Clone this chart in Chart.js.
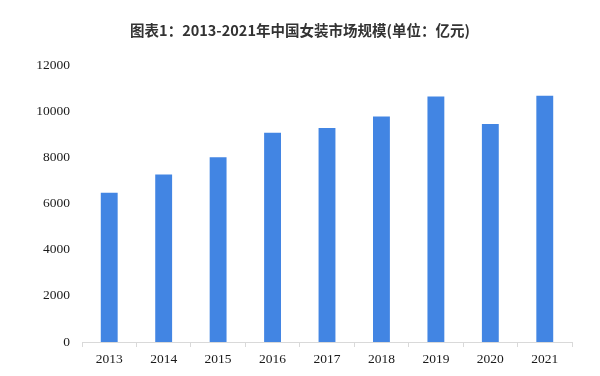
<!DOCTYPE html>
<html lang="zh">
<head>
  <meta charset="UTF-8">
  <title>2013-2021年中国女装市场规模</title>
  <script src="https://cdn.jsdelivr.net/npm/chart.js"></script>
  <style>
    body {
      margin: 0;
      background: #ffffff;
    }
    .chart-container {
      position: relative;
      width: 600px;
      height: 376px;
    }
  </style>
</head>
<body>
  <div class="chart-container">
    <canvas id="marketChart"></canvas>
  </div>

  <script>
    // data (亿元)
    const years = ['2013', '2014', '2015', '2016', '2017', '2018', '2019', '2020', '2021'];
    const marketSize = [6480, 7270, 8020, 9080, 9280, 9780, 10650, 9460, 10680];
    const yTicks = [0, 2000, 4000, 6000, 8000, 10000, 12000];

    const titleText = '图表1：2013-2021年中国女装市场规模(单位：亿元)';

    const ctx = document.getElementById('marketChart').getContext('2d');

    new Chart(ctx, {
      type: 'bar',
      data: {
        labels: years,
        datasets: [{
          label: '市场规模',
          data: marketSize,
          backgroundColor: '#4285e3',
          categoryPercentage: 1,
          barPercentage: 0.31,
        }]
      },
      options: {
        responsive: true,
        maintainAspectRatio: false,
        animation: false,
        layout: {
          // equal side padding keeps the title centred on the page
          padding: { top: 0, left: 28, right: 28, bottom: 0 }
        },
        plugins: {
          legend: { display: false },
          tooltip: { enabled: false },
          title: {
            display: true,
            text: titleText,
            color: '#333333',
            font: { family: '"Noto Sans CJK SC", sans-serif', size: 14.5, weight: 'bold' },
            padding: { top: 22, bottom: 26 },
          },
        },
        scales: {
          x: {
            offset: true,
            grid: {
              display: true,
              drawOnChartArea: false,
              offset: true,
              tickLength: 5,
              color: '#d9d9d9',
            },
            border: { color: '#d9d9d9' },
            ticks: {
              color: '#1a1a1a',
              font: { family: '"Liberation Serif", serif', size: 13.5 },
              padding: 4,
            },
            afterFit: (scale) => { scale.height = 34; },
          },
          y: {
            min: 0,
            max: 12000,
            afterBuildTicks: (scale) => {
              scale.ticks = yTicks.map(v => ({ value: v }));
            },
            grid: { display: false, drawTicks: false },
            border: { display: false },
            ticks: {
              color: '#1a1a1a',
              font: { family: '"Liberation Serif", serif', size: 13.5 },
              padding: 12,
              callback: (value) => String(value),
            },
            afterFit: (scale) => { scale.width = 54; },
          },
        },
      },
    });
  </script>
</body>
</html>
